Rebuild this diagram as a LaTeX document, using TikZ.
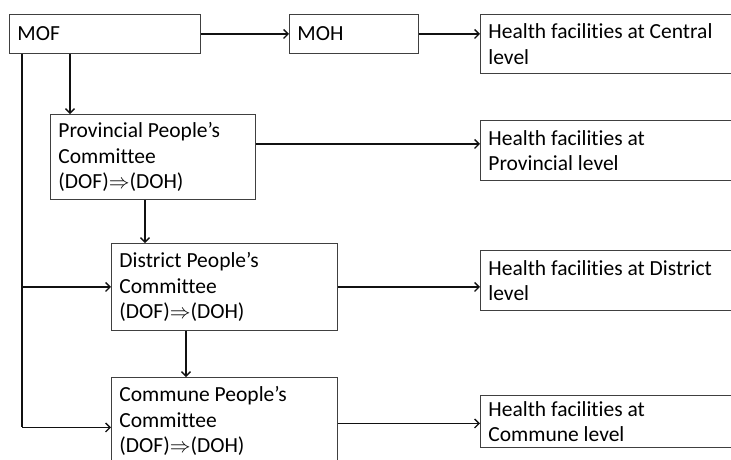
\documentclass[tikz,border=0pt]{standalone}
\usepackage{fontspec}
\setmainfont{Carlito}[Ligatures=NoCommon]
\usepackage{tikz}
\usetikzlibrary{positioning,arrows.meta}
\definecolor{BoxEdge}{HTML}{404040}
\definecolor{LinkBlack}{HTML}{111111}

\tikzset{
  unitbox/.style={draw=BoxEdge, line width=0.9pt, anchor=north west, align=flush left,
    inner xsep=8pt, inner ysep=0pt, text width=#1,
    font=\fontsize{21.5}{25.5}\selectfont},
  link/.style={draw=LinkBlack, line width=1.3pt, -{Straight Barb[length=4.5pt,width=9pt,line width=1.3pt]}},
  trunk/.style={draw=LinkBlack, line width=2pt}
}

\begin{document}
\begin{tikzpicture}[x=1pt, y=-1pt]
  \useasboundingbox (0,0) rectangle (731,459);
  \clip (0,0) rectangle (731,459);

  % Ministries
  \node[unitbox=175pt, minimum height=39pt] (mof) at (9,14) {MOF};
  \node[unitbox=113pt, minimum height=39pt] (moh) at (289,14) {MOH};

  % People's committees
  \node[unitbox=189pt, minimum height=85pt] (prov) at (50,114)
    {Provincial People’s\\Committee\\(DOF)${\Rightarrow}$(DOH)};
  \node[unitbox=210pt, minimum height=87pt] (dist) at (111,243)
    {District People’s\\Committee\\(DOF)${\Rightarrow}$(DOH)};
  \node[unitbox=210pt, minimum height=87pt] (comm) at (111,377)
    {Commune People’s\\Committee\\(DOF)${\Rightarrow}$(DOH)};

  % Health facilities, one per level
  \node[unitbox=264pt, minimum height=59pt] (hfcentral) at (480,14)
    {Health facilities at Central\\level};
  \node[unitbox=264pt, minimum height=60pt] (hfprov) at (480,120)
    {Health facilities at\\Provincial level};
  \node[unitbox=264pt, minimum height=60pt] (hfdist) at (480,250)
    {Health facilities at District\\level};
  \node[unitbox=264pt, minimum height=52pt] (hfcomm) at (480,395)
    {Health facilities at\\Commune level};

  % Free ends of the links
  \coordinate (trunktop) at ([xshift=13pt]mof.south west);
  \coordinate (provdrop) at ([xshift=20pt]prov.north west);
  \coordinate (distdrop) at ([xshift=34pt]dist.north west);
  \coordinate (commdrop) at ([xshift=75pt]comm.north west);
  \coordinate (provout) at ([yshift=13pt]prov.east);
  \coordinate (commout) at ([yshift=-2.5pt]comm.east);
  \coordinate (commin) at ([yshift=-6.5pt]comm.west);

  % Links
  \draw[link] (mof) -- (moh);
  \draw[link] (moh.east) -- (moh.east -| hfcentral.west);
  \draw[link] (provdrop |- mof.south) -- (provdrop);
  \draw[link] (provout) -- (provout -| hfprov.west);
  \draw[link] (distdrop |- prov.south) -- (distdrop);
  \draw[link] (dist.east) -- (dist.east -| hfdist.west);
  \draw[link] (commdrop |- dist.south) -- (commdrop);
  \draw[link] (commout) -- (commout -| hfcomm.west);

  % Left trunk from MOF
  \draw[trunk] (trunktop) -- (trunktop |- commin);
  \draw[link] (trunktop |- dist.west) -- (dist.west);
  \draw[link] (trunktop |- commin) -- (commin);
\end{tikzpicture}
\end{document}
